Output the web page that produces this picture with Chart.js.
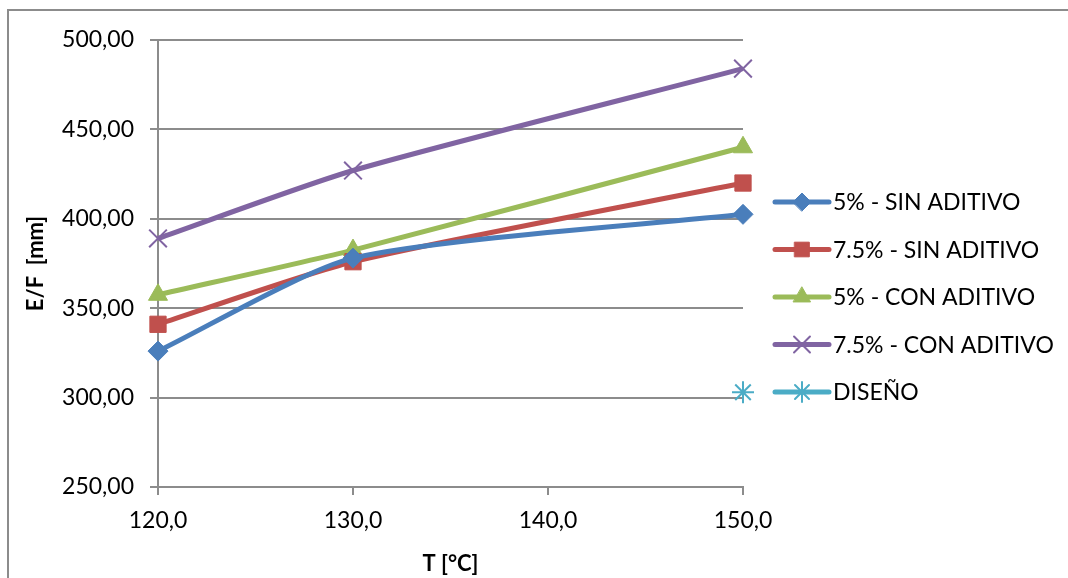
<!DOCTYPE html>
<html>
<head>
<meta charset="utf-8">
<script src="https://cdn.jsdelivr.net/npm/chart.js@4/dist/chart.umd.min.js"></script>
<style>
  html, body { margin: 0; padding: 0; background: #fff; }
  #wrap { width: 1068px; height: 578px; position: relative; }
</style>
</head>
<body>
<div id="wrap"><canvas id="chart"></canvas></div>
<script>
// temperatures (x) and E/F values
const temps = [120, 130, 150];
const sinAditivo5 = [326, 378, 402.5];
const sinAditivo75 = [341, 376, 420];
const conAditivo5 = [357.5, 382.5, 440];
const conAditivo75 = [389, 427, 484];
const disenoT = [150];
const disenoVal = [303];

const seriesLabels = ['5% - SIN ADITIVO', '7.5% - SIN ADITIVO', '5% - CON ADITIVO', '7.5% - CON ADITIVO', 'DISEÑO'];
const xTicks = [120, 130, 140, 150];
const yTicks = [250, 300, 350, 400, 450, 500];

const FONT = 'Lato, "Open Sans", sans-serif';
const GRID = '#8c8c8c';

const toPoints = (xs, ys) => xs.map((x, i) => ({ x: x, y: ys[i] }));

const makeSet = (label, data, color, style, radius, bw) => ({
    label,
    data,
    borderColor: color,
    backgroundColor: color,
    borderWidth: 5,
    pointStyle: style,
    pointRadius: radius,
    pointHoverRadius: radius,
    pointBorderWidth: bw,
    pointBorderColor: color,
    pointBackgroundColor: color,
    tension: 0.22,
    clip: false,
    fill: false
});

const datasets = [
    makeSet(seriesLabels[0], toPoints(temps, sinAditivo5), '#4a7ebb', 'rectRot', 10, 1),
    makeSet(seriesLabels[1], toPoints(temps, sinAditivo75), '#c0504d', 'rect', 11.5, 1),
    makeSet(seriesLabels[2], toPoints(temps, conAditivo5), '#9bbb59', 'triangle', 11, 1),
    makeSet(seriesLabels[3], toPoints(temps, conAditivo75), '#8064a2', 'crossRot', 12.5, 2),
    makeSet(seriesLabels[4], toPoints(disenoT, disenoVal), '#4bacc6', 'star', 11, 2)
];

// white background + outer chart frame
const framePlugin = {
    id: 'frame',
    beforeDraw(chart) {
        const ctx = chart.ctx;
        ctx.save();
        ctx.fillStyle = '#fff';
        ctx.fillRect(0, 0, chart.width, chart.height);
        ctx.strokeStyle = '#8c8c8c';
        ctx.lineWidth = 2;
        ctx.strokeRect(8, 10, chart.width + 20, chart.height + 20);
        ctx.restore();
    }
};

// Excel-like legend: short line with the marker in the middle
const legendPlugin = {
    id: 'sideLegend',
    afterDraw(chart) {
        const ctx = chart.ctx;
        const x0 = 775, x1 = 829, startY = 202, step = 47.5;
        ctx.save();
        chart.data.datasets.forEach((ds, i) => {
            const y = startY + i * step;
            ctx.strokeStyle = ds.borderColor;
            ctx.lineWidth = 5;
            ctx.lineCap = 'round';
            ctx.beginPath();
            ctx.moveTo(x0, y);
            ctx.lineTo(x1, y);
            ctx.stroke();
            ctx.fillStyle = ds.pointBackgroundColor;
            ctx.strokeStyle = ds.pointBorderColor;
            ctx.lineWidth = ds.pointBorderWidth;
            Chart.helpers.drawPoint(ctx, { pointStyle: ds.pointStyle, radius: ds.pointRadius * 0.9, rotation: 0, borderWidth: ds.pointBorderWidth }, (x0 + x1) / 2, y);
            ctx.fillStyle = '#000';
            ctx.font = '23px ' + FONT;
            ctx.textAlign = 'left';
            ctx.textBaseline = 'middle';
            ctx.fillText(ds.label, 833, y + 1);
        });
        ctx.restore();
    }
};

new Chart(document.getElementById('chart'), {
    type: 'line',
    data: { datasets },
    plugins: [framePlugin, legendPlugin],
    options: {
        responsive: true,
        maintainAspectRatio: false,
        animation: false,
        layout: { padding: { left: 8, right: 325, top: 40, bottom: 0 } },
        plugins: {
            legend: { display: false },
            tooltip: { enabled: false }
        },
        scales: {
            x: {
                type: 'linear',
                min: 120,
                max: 150,
                afterFit(scale) { scale.height = 91; },
                afterBuildTicks(scale) { scale.ticks = xTicks.map(v => ({ value: v })); },
                ticks: {
                    padding: 12,
                    color: '#000',
                    font: { family: FONT, size: 23 },
                    callback: v => v.toFixed(1).replace('.', ',')
                },
                grid: { drawOnChartArea: false, drawTicks: true, tickLength: 8, color: GRID, lineWidth: 2 },
                border: { display: true, color: GRID, width: 2 },
                title: {
                    display: true,
                    text: 'T [°C]',
                    color: '#000',
                    font: { family: FONT, size: 22, weight: 'bold' },
                    padding: { top: 0, bottom: 1 }
                }
            },
            y: {
                type: 'linear',
                min: 250,
                max: 500,
                afterFit(scale) { scale.width = 150; },
                afterBuildTicks(scale) { scale.ticks = yTicks.map(v => ({ value: v })); },
                ticks: {
                    padding: 16,
                    color: '#000',
                    font: { family: FONT, size: 23 },
                    callback: v => v.toFixed(2).replace('.', ',')
                },
                grid: { color: GRID, lineWidth: 2, tickLength: 8 },
                border: { display: true, color: GRID, width: 2 },
                title: {
                    display: true,
                    text: 'E/F  [mm]',
                    color: '#000',
                    font: { family: FONT, size: 22, weight: 'bold' },
                    padding: { top: 15, bottom: 0 }
                }
            }
        }
    }
});
</script>
</body>
</html>
